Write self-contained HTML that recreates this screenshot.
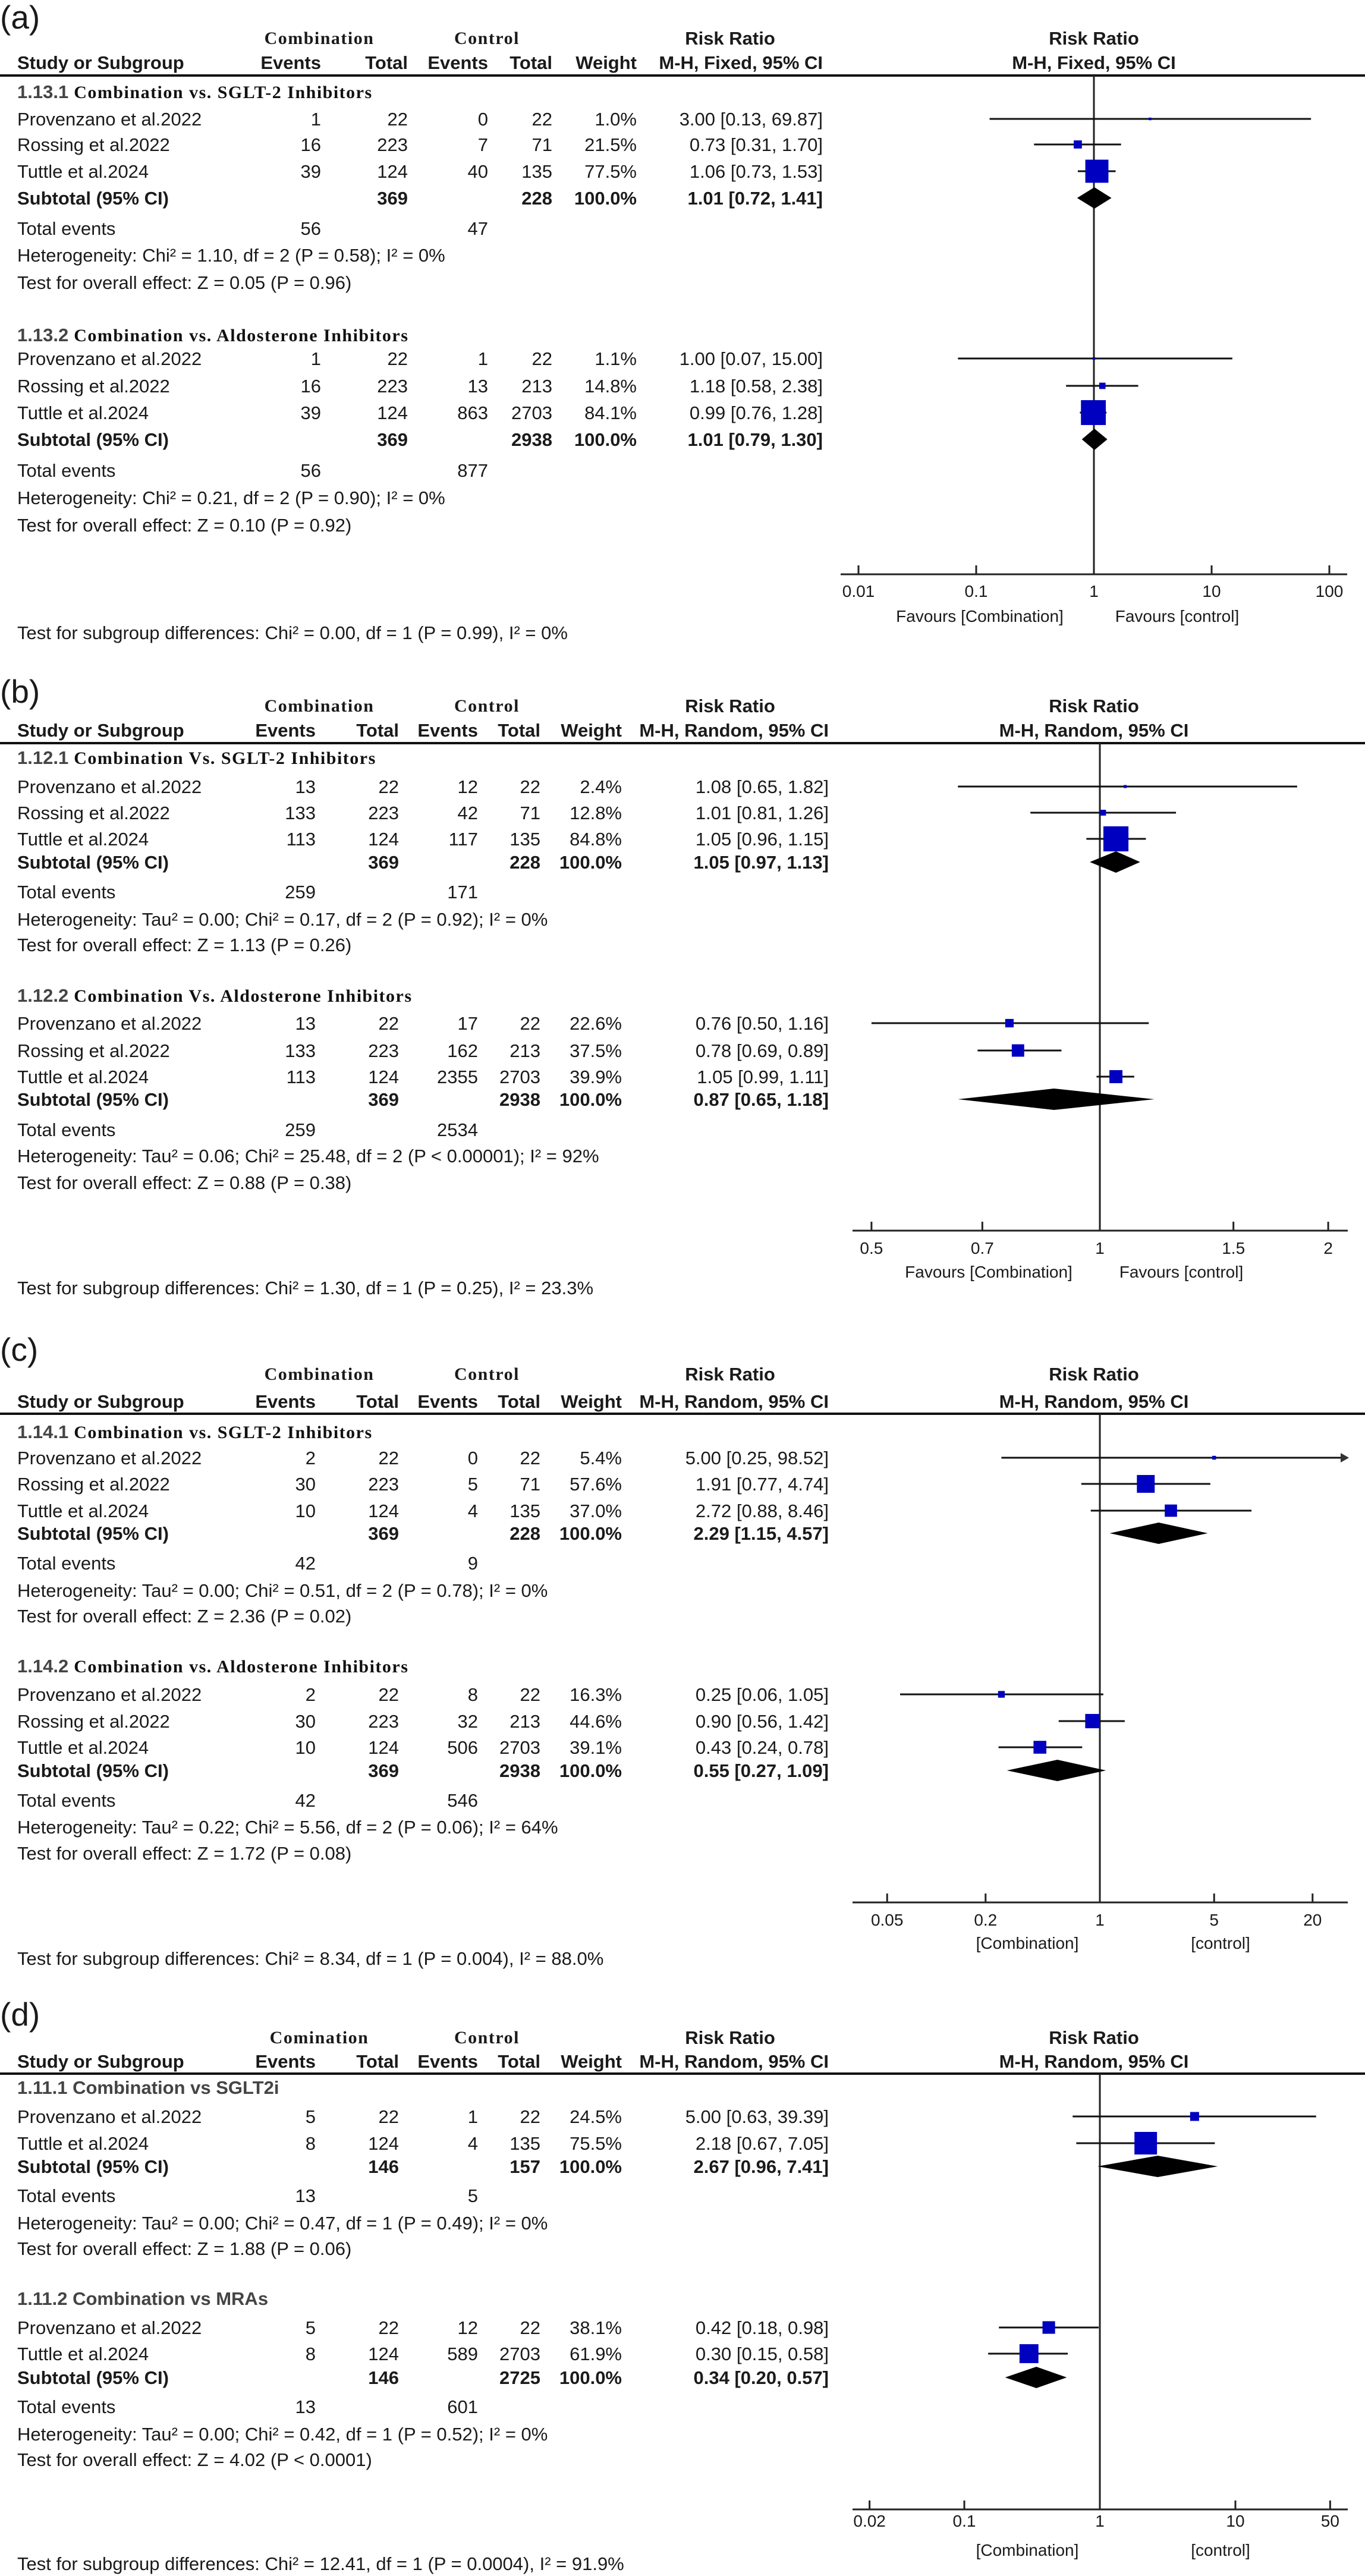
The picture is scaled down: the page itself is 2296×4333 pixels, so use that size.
<!DOCTYPE html>
<html><head><meta charset="utf-8"><style>
html,body{margin:0;padding:0;background:#fff;}
svg{display:block;}
text{font-family:"Liberation Sans",Arial,sans-serif;fill:#1a1a1a;}
.serif{font-family:"Liberation Serif",serif;font-weight:bold;letter-spacing:1.5px;}
</style></head>
<body>
<svg id="chart" xmlns="http://www.w3.org/2000/svg" width="2296" height="4333" viewBox="0 0 2296 4333"></svg>
<script>
// ===== DATA =====
const studies3 = ["Provenzano et al.2022","Rossing et al.2022","Tuttle et al.2024"];
const studies2 = ["Provenzano et al.2022","Tuttle et al.2024"];

// Panel a
const a1_ev1=[1,16,39], a1_tot1=[22,223,124], a1_ev2=[0,7,40], a1_tot2=[22,71,135], a1_w=[1.0,21.5,77.5];
const a1_rr=[3.00,0.73,1.06], a1_lo=[0.13,0.31,0.73], a1_hi=[69.87,1.70,1.53];
const a1_sub=[369,228,1.01,0.72,1.41], a1_totev=[56,47];
const a2_ev1=[1,16,39], a2_tot1=[22,223,124], a2_ev2=[1,13,863], a2_tot2=[22,213,2703], a2_w=[1.1,14.8,84.1];
const a2_rr=[1.00,1.18,0.99], a2_lo=[0.07,0.58,0.76], a2_hi=[15.00,2.38,1.28];
const a2_sub=[369,2938,1.01,0.79,1.30], a2_totev=[56,877];
const a_ticks=[0.01,0.1,1,10,100], a_tickLabels=["0.01","0.1","1","10","100"];

// Panel b
const b1_ev1=[13,133,113], b1_tot1=[22,223,124], b1_ev2=[12,42,117], b1_tot2=[22,71,135], b1_w=[2.4,12.8,84.8];
const b1_rr=[1.08,1.01,1.05], b1_lo=[0.65,0.81,0.96], b1_hi=[1.82,1.26,1.15];
const b1_sub=[369,228,1.05,0.97,1.13], b1_totev=[259,171];
const b2_ev1=[13,133,113], b2_tot1=[22,223,124], b2_ev2=[17,162,2355], b2_tot2=[22,213,2703], b2_w=[22.6,37.5,39.9];
const b2_rr=[0.76,0.78,1.05], b2_lo=[0.50,0.69,0.99], b2_hi=[1.16,0.89,1.11];
const b2_sub=[369,2938,0.87,0.65,1.18], b2_totev=[259,2534];
const b_ticks=[0.5,0.7,1,1.5,2], b_tickLabels=["0.5","0.7","1","1.5","2"];

// Panel c
const c1_ev1=[2,30,10], c1_tot1=[22,223,124], c1_ev2=[0,5,4], c1_tot2=[22,71,135], c1_w=[5.4,57.6,37.0];
const c1_rr=[5.00,1.91,2.72], c1_lo=[0.25,0.77,0.88], c1_hi=[98.52,4.74,8.46];
const c1_sub=[369,228,2.29,1.15,4.57], c1_totev=[42,9];
const c2_ev1=[2,30,10], c2_tot1=[22,223,124], c2_ev2=[8,32,506], c2_tot2=[22,213,2703], c2_w=[16.3,44.6,39.1];
const c2_rr=[0.25,0.90,0.43], c2_lo=[0.06,0.56,0.24], c2_hi=[1.05,1.42,0.78];
const c2_sub=[369,2938,0.55,0.27,1.09], c2_totev=[42,546];
const c_ticks=[0.05,0.2,1,5,20], c_tickLabels=["0.05","0.2","1","5","20"];

// Panel d
const d1_ev1=[5,8], d1_tot1=[22,124], d1_ev2=[1,4], d1_tot2=[22,135], d1_w=[24.5,75.5];
const d1_rr=[5.00,2.18], d1_lo=[0.63,0.67], d1_hi=[39.39,7.05];
const d1_sub=[146,157,2.67,0.96,7.41], d1_totev=[13,5];
const d2_ev1=[5,8], d2_tot1=[22,124], d2_ev2=[12,589], d2_tot2=[22,2703], d2_w=[38.1,61.9];
const d2_rr=[0.42,0.30], d2_lo=[0.18,0.15], d2_hi=[0.98,0.58];
const d2_sub=[146,2725,0.34,0.20,0.57], d2_totev=[13,601];
const d_ticks=[0.02,0.1,1,10,50], d_tickLabels=["0.02","0.1","1","10","50"];

// ===== RENDER =====
const NS="http://www.w3.org/2000/svg";
const svg=document.getElementById("chart");
function mk(tag,attrs,parent){const e=document.createElementNS(NS,tag);for(const k in attrs)e.setAttribute(k,attrs[k]);(parent||svg).appendChild(e);return e;}
function T(str,x,y,opts,parent){const o=opts||{};const e=mk("text",{x:x,y:y,"font-size":o.size||31,"text-anchor":o.anchor||"start","font-weight":o.bold?"bold":"normal"},parent);if(o.cls)e.setAttribute("class",o.cls);if(o.fill)e.setAttribute("fill",o.fill);e.textContent=str;return e;}

const panels=[
 {id:"a",cx:1840,k:198,axL:1414,axR:2266,label:1,h1:64,h2:105,line:127,
  cols:[540,686,821,929,1071,1384],ci:"M-H, Fixed, 95% CI",comb:"Combination",
  ticks:a_ticks,tl:a_tickLabels,axis:966,tly:994,fav:1036,favL:["Favours [Combination]",1648],favR:["Favours [control]",1980],
  sg:1064,sgText:"Test for subgroup differences: Chi² = 0.00, df = 1 (P = 0.99), I² = 0%",
  groups:[
   {num:"1.13.1",title:" Combination  vs. SGLT-2 Inhibitors",sans:false,sec:154,rows:[200,243,288],sub:333,tot:384,het:429,test:475,names:studies3,
    ev1:a1_ev1,tot1:a1_tot1,ev2:a1_ev2,tot2:a1_tot2,w:a1_w,rr:a1_rr,lo:a1_lo,hi:a1_hi,s:a1_sub,te:a1_totev,
    hetT:"Heterogeneity: Chi² = 1.10, df = 2 (P = 0.58); I² = 0%",testT:"Test for overall effect: Z = 0.05 (P = 0.96)"},
   {num:"1.13.2",title:" Combination vs. Aldosterone Inhibitors",sans:false,sec:563,rows:[603,649,694],sub:739,tot:791,het:837,test:883,names:studies3,
    ev1:a2_ev1,tot1:a2_tot1,ev2:a2_ev2,tot2:a2_tot2,w:a2_w,rr:a2_rr,lo:a2_lo,hi:a2_hi,s:a2_sub,te:a2_totev,
    hetT:"Heterogeneity: Chi² = 0.21, df = 2 (P = 0.90); I² = 0%",testT:"Test for overall effect: Z = 0.10 (P = 0.92)"}]},
 {id:"b",cx:1850,k:1276,axL:1434,axR:2267,label:1162,h1:1187,h2:1228,line:1250,
  cols:[531,671,804,909,1046,1394],ci:"M-H, Random, 95% CI",comb:"Combination",
  ticks:b_ticks,tl:b_tickLabels,axis:2070,tly:2099,fav:2139,favL:["Favours [Combination]",1663],favR:["Favours [control]",1987],
  sg:2166,sgText:"Test for subgroup differences: Chi² = 1.30, df = 1 (P = 0.25), I² = 23.3%",
  groups:[
   {num:"1.12.1",title:" Combination Vs. SGLT-2 Inhibitors",sans:false,sec:1274,rows:[1323,1367,1411],sub:1450,tot:1500,het:1546,test:1589,names:studies3,
    ev1:b1_ev1,tot1:b1_tot1,ev2:b1_ev2,tot2:b1_tot2,w:b1_w,rr:b1_rr,lo:b1_lo,hi:b1_hi,s:b1_sub,te:b1_totev,
    hetT:"Heterogeneity: Tau² = 0.00; Chi² = 0.17, df = 2 (P = 0.92); I² = 0%",testT:"Test for overall effect: Z = 1.13 (P = 0.26)"},
   {num:"1.12.2",title:" Combination Vs. Aldosterone Inhibitors",sans:false,sec:1674,rows:[1721,1767,1811],sub:1849,tot:1900,het:1944,test:1989,names:studies3,
    ev1:b2_ev1,tot1:b2_tot1,ev2:b2_ev2,tot2:b2_tot2,w:b2_w,rr:b2_rr,lo:b2_lo,hi:b2_hi,s:b2_sub,te:b2_totev,
    hetT:"Heterogeneity: Tau² = 0.06; Chi² = 25.48, df = 2 (P < 0.00001); I² = 92%",testT:"Test for overall effect: Z = 0.88 (P = 0.38)"}]},
 {id:"c",cx:1850,k:275,axL:1434,axR:2267,label:2269,h1:2311,h2:2357,line:2378,
  cols:[531,671,804,909,1046,1394],ci:"M-H, Random, 95% CI",comb:"Combination",
  ticks:c_ticks,tl:c_tickLabels,axis:3200,tly:3229,fav:3268,favL:["[Combination]",1728],favR:["[control]",2053],
  sg:3294,sgText:"Test for subgroup differences: Chi² = 8.34, df = 1 (P = 0.004), I² = 88.0%",
  groups:[
   {num:"1.14.1",title:" Combination vs. SGLT-2 Inhibitors",sans:false,sec:2408,rows:[2452,2496,2541],sub:2579,tot:2629,het:2675,test:2718,names:studies3,
    ev1:c1_ev1,tot1:c1_tot1,ev2:c1_ev2,tot2:c1_tot2,w:c1_w,rr:c1_rr,lo:c1_lo,hi:c1_hi,s:c1_sub,te:c1_totev,
    hetT:"Heterogeneity: Tau² = 0.00; Chi² = 0.51, df = 2 (P = 0.78); I² = 0%",testT:"Test for overall effect: Z = 2.36 (P = 0.02)"},
   {num:"1.14.2",title:" Combination vs. Aldosterone Inhibitors",sans:false,sec:2802,rows:[2850,2895,2939],sub:2978,tot:3028,het:3073,test:3117,names:studies3,
    ev1:c2_ev1,tot1:c2_tot1,ev2:c2_ev2,tot2:c2_tot2,w:c2_w,rr:c2_rr,lo:c2_lo,hi:c2_hi,s:c2_sub,te:c2_totev,
    hetT:"Heterogeneity: Tau² = 0.22; Chi² = 5.56, df = 2 (P = 0.06); I² = 64%",testT:"Test for overall effect: Z = 1.72 (P = 0.08)"}]},
 {id:"d",cx:1850,k:228,axL:1434,axR:2267,label:3387,h1:3427,h2:3467,line:3488,
  cols:[531,671,804,909,1046,1394],ci:"M-H, Random, 95% CI",comb:"Comination",
  ticks:d_ticks,tl:d_tickLabels,axis:4221,tly:4240,fav:4289,favL:["[Combination]",1728],favR:["[control]",2053],
  sg:4312,sgText:"Test for subgroup differences: Chi² = 12.41, df = 1 (P = 0.0004), I² = 91.9%",
  groups:[
   {num:"1.11.1",title:" Combination vs SGLT2i",sans:true,sec:3511,rows:[3560,3605],sub:3644,tot:3693,het:3739,test:3782,names:studies2,
    ev1:d1_ev1,tot1:d1_tot1,ev2:d1_ev2,tot2:d1_tot2,w:d1_w,rr:d1_rr,lo:d1_lo,hi:d1_hi,s:d1_sub,te:d1_totev,
    hetT:"Heterogeneity: Tau² = 0.00; Chi² = 0.47, df = 1 (P = 0.49); I² = 0%",testT:"Test for overall effect: Z = 1.88 (P = 0.06)"},
   {num:"1.11.2",title:" Combination vs MRAs",sans:true,sec:3866,rows:[3915,3959],sub:3999,tot:4048,het:4094,test:4137,names:studies2,
    ev1:d2_ev1,tot1:d2_tot1,ev2:d2_ev2,tot2:d2_tot2,w:d2_w,rr:d2_rr,lo:d2_lo,hi:d2_hi,s:d2_sub,te:d2_totev,
    hetT:"Heterogeneity: Tau² = 0.00; Chi² = 0.42, df = 1 (P = 0.52); I² = 0%",testT:"Test for overall effect: Z = 4.02 (P < 0.0001)"}]}
];

const B=11; // baseline offset from row center
function ciStr(r,l,h){return r.toFixed(2)+" ["+l.toFixed(2)+", "+h.toFixed(2)+"]";}

panels.forEach(function(P){
  const g=mk("g",{});
  
  
  const xs=function(v){return P.cx+P.k*Math.log10(v);};
  const clamp=function(x){return Math.max(P.axL,Math.min(P.axR,x));};

  const lab=T("("+P.id+")",0,(P.id==="a"?48:P.label+20),{size:55},g);
  
  

  const hc=T(P.comb,537,P.h1+10,{size:30,anchor:"middle",cls:"serif"},g);
  
  
  const hk=T("Control",819,P.h1+10,{size:30,anchor:"middle",cls:"serif"},g);
  
  
  const hr=T("Risk Ratio",1228,P.h1+B,{size:31,anchor:"middle",bold:true,fill:"#333"},g);
  
  
  const hr2=T("Risk Ratio",1840,P.h1+B,{size:31,anchor:"middle",bold:true,fill:"#333"},g);
  
  

  const heads=["Events","Total","Events","Total","Weight",P.ci];
  const hs=T("Study or Subgroup",29,P.h2+B,{bold:true,fill:"#333"},g);
  
  
  heads.forEach(function(h,i){
    const e=T(h,P.cols[i],P.h2+B,{bold:true,anchor:"end",fill:"#333"},g);
    
    
  });
  const hm=T(P.ci,1840,P.h2+B,{bold:true,anchor:"middle",fill:"#333"},g);
  
  

  const hl=mk("line",{x1:0,x2:2296,y1:P.line,y2:P.line,stroke:"#111","stroke-width":4},g);
  
  

  const nl=mk("line",{x1:P.cx,x2:P.cx,y1:P.line,y2:P.axis,stroke:"#222","stroke-width":3},g);
  
  

  P.groups.forEach(function(G,gi){
    const st=mk("text",{x:29,y:G.sec+B,"font-size":31},g);
    
    
    const t1=mk("tspan",{"font-weight":"bold",fill:"#444"},st);t1.textContent=G.num;
    const t2=mk("tspan",G.sans?{"font-weight":"bold",fill:"#444"}:{"class":"serif","font-size":30,fill:"#111"},st);t2.textContent=G.title;

    G.names.forEach(function(nm,i){
      const y=G.rows[i];
      const vals=[String(G.ev1[i]),String(G.tot1[i]),String(G.ev2[i]),String(G.tot2[i]),G.w[i].toFixed(1)+"%",ciStr(G.rr[i],G.lo[i],G.hi[i])];
      const n=T(nm,29,y+B,{},g);
      
      
      vals.forEach(function(v,j){
        const e=T(v,P.cols[j],y+B,{anchor:"end"},g);
        
        
      });
      const xl=clamp(xs(G.lo[i])), xh=clamp(xs(G.hi[i]));
      const ci=mk("line",{x1:xl,x2:xh,y1:y,y2:y,stroke:"#111","stroke-width":3},g);
      
      
      if(xs(G.hi[i])>P.axR){
        const ar=mk("polygon",{points:(P.axR+2)+","+y+" "+(P.axR-12)+","+(y-8)+" "+(P.axR-12)+","+(y+8),fill:"#333"},g);
        
        
      }
      const s=4+0.45*G.w[i];
      const sq=mk("rect",{x:xs(G.rr[i])-s/2,y:y-s/2,width:s,height:s,fill:"#0000c0"},g);
      
      
    });

    const sy=G.sub;
    const sl=T("Subtotal (95% CI)",29,sy+B,{bold:true,fill:"#333"},g);
    
    
    [[String(G.s[0]),1],[String(G.s[1]),3],["100.0%",4],[ciStr(G.s[2],G.s[3],G.s[4]),5]].forEach(function(p){
      const e=T(p[0],P.cols[p[1]],sy+B,{bold:true,anchor:"end",fill:"#333"},g);
      
      
    });
    const xr=xs(G.s[2]),xl=clamp(xs(G.s[3])),xh=clamp(xs(G.s[4]));
    const dm=mk("polygon",{points:xl+","+sy+" "+xr+","+(sy-18)+" "+xh+","+sy+" "+xr+","+(sy+18),fill:"#000"},g);
    
    

    const tl=T("Total events",29,G.tot+B,{},g);
    
    
    const te1=T(String(G.te[0]),P.cols[0],G.tot+B,{anchor:"end"},g);
    
    
    const te2=T(String(G.te[1]),P.cols[2],G.tot+B,{anchor:"end"},g);
    
    
    const ht=T(G.hetT,29,G.het+B,{},g);
    
    
    const ot=T(G.testT,29,G.test+B,{},g);
    
    
  });

  const ax=mk("line",{x1:P.axL,x2:P.axR,y1:P.axis,y2:P.axis,stroke:"#222","stroke-width":3},g);
  
  
  P.ticks.forEach(function(v,i){
    const x=xs(v);
    const tk=mk("line",{x1:x,x2:x,y1:P.axis-15,y2:P.axis,stroke:"#222","stroke-width":3},g);
    
    
    const tlb=T(P.tl[i],x,P.tly+10,{size:28,anchor:"middle",fill:"#333"},g);
    
    
  });
  const fl=T(P.favL[0],P.favL[1],P.fav+10,{size:28,anchor:"middle",fill:"#333"},g);
  
  
  const fr=T(P.favR[0],P.favR[1],P.fav+10,{size:28,anchor:"middle",fill:"#333"},g);
  
  
  const sg=T(P.sgText,29,P.sg+B,{},g);
  
  
});
</script>
</body></html>
